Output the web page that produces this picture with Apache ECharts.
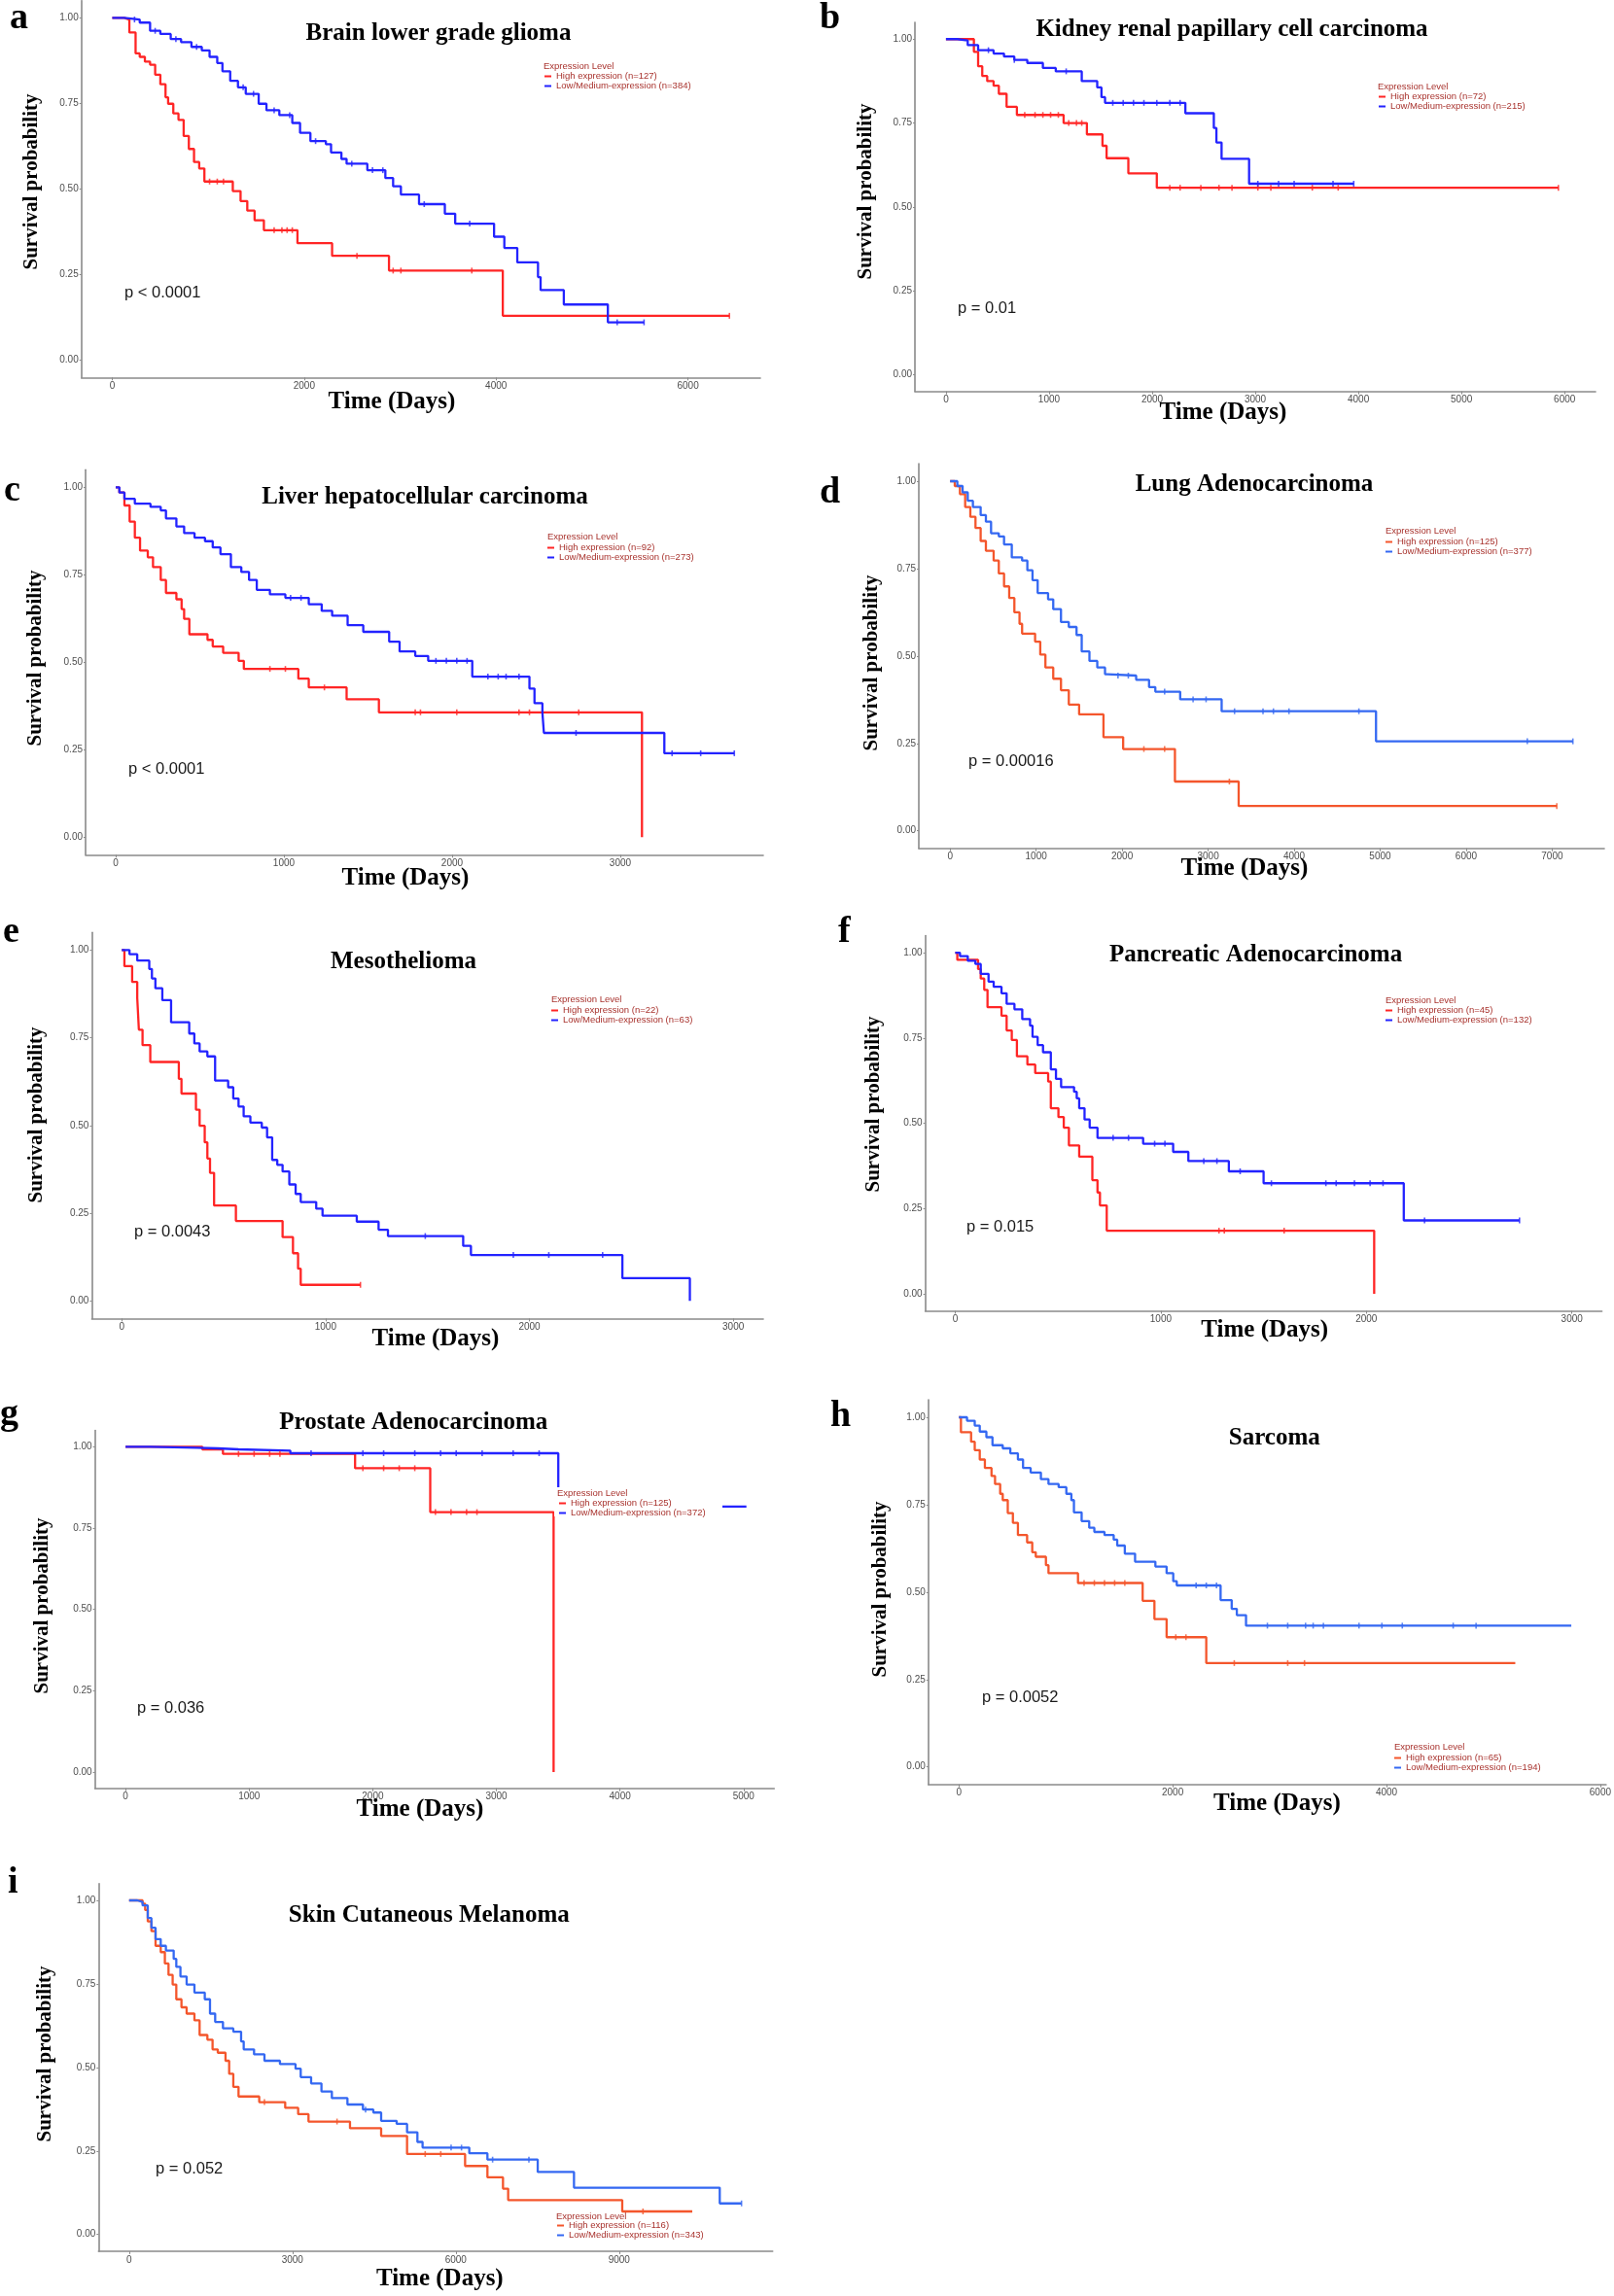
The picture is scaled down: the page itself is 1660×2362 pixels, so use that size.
<!DOCTYPE html>
<html><head><meta charset="utf-8">
<script src="https://cdn.jsdelivr.net/npm/echarts@6/dist/echarts.min.js"></script>
<style>html,body{margin:0;padding:0;background:#fff}#c{width:1660px;height:2362px}</style>
</head><body><div id="c"></div>
<script>
// ---------------- DATA (time in days, survival probability) ----------------
const brainHigh = [[0,1],[124,0.995],[178,0.957],[243,0.896],[286,0.886],[340,0.872],[394,0.863],[447,0.834],[501,0.806],[555,0.768],[582,0.749],[636,0.721],[690,0.702],[744,0.655],[798,0.617],[852,0.579],[906,0.56],[960,0.522],[1256,0.494],[1337,0.465],[1407,0.437],[1483,0.409],[1580,0.38],[1930,0.342],[2291,0.305],[2884,0.262],[4070,0.13],[6432,0.13]];
const brainLow = [[0,1],[124,0.995],[286,0.986],[394,0.962],[501,0.953],[609,0.938],[717,0.929],[825,0.915],[933,0.905],[1014,0.886],[1094,0.868],[1148,0.844],[1229,0.816],[1310,0.797],[1391,0.778],[1526,0.749],[1607,0.73],[1741,0.716],[1876,0.693],[1957,0.664],[2065,0.64],[2226,0.631],[2280,0.607],[2388,0.588],[2442,0.574],[2658,0.555],[2846,0.532],[2927,0.508],[3008,0.484],[3197,0.456],[3466,0.428],[3574,0.399],[3979,0.361],[4086,0.328],[4221,0.286],[4437,0.243],[4464,0.205],[4706,0.163],[5165,0.111],[5542,0.111]];
const kidneyHigh = [[0,1],[271,0.962],[312,0.919],[352,0.89],[400,0.875],[462,0.861],[513,0.837],[588,0.798],[688,0.774],[1141,0.75],[1367,0.716],[1518,0.682],[1558,0.645],[1769,0.6],[2045,0.557],[5940,0.557]];
const kidneyLow = [[0,1],[111,0.996],[211,0.982],[312,0.967],[462,0.957],[563,0.948],[663,0.938],[789,0.929],[940,0.914],[1065,0.904],[1317,0.875],[1467,0.856],[1508,0.827],[1543,0.81],[2322,0.779],[2598,0.735],[2623,0.692],[2673,0.643],[2940,0.569],[3955,0.569]];
const liverHigh = [[0,1],[22,0.985],[52,0.948],[83,0.902],[114,0.856],[145,0.819],[191,0.8],[222,0.772],[268,0.735],[299,0.698],[361,0.68],[392,0.652],[407,0.624],[438,0.58],[546,0.564],[577,0.545],[639,0.527],[731,0.504],[762,0.481],[1086,0.453],[1148,0.428],[1373,0.394],[1565,0.357],[3129,0]];
const liverLow = [[0,1],[22,0.985],[52,0.967],[114,0.953],[207,0.944],[268,0.934],[299,0.911],[361,0.888],[407,0.869],[469,0.856],[531,0.846],[577,0.828],[623,0.809],[685,0.772],[747,0.758],[793,0.735],[839,0.707],[917,0.694],[1009,0.684],[1148,0.666],[1225,0.647],[1287,0.633],[1379,0.606],[1472,0.587],[1626,0.559],[1688,0.531],[1781,0.518],[1858,0.504],[2120,0.459],[2460,0.425],[2490,0.383],[2537,0.356],[2546,0.298],[3262,0.24],[3678,0.24]];
const lungHigh = [[0,1],[54,0.986],[114,0.963],[175,0.926],[235,0.898],[295,0.866],[355,0.829],[416,0.801],[506,0.773],[566,0.736],[627,0.699],[687,0.666],[747,0.625],[807,0.592],[837,0.564],[988,0.541],[1048,0.504],[1108,0.467],[1199,0.435],[1289,0.402],[1380,0.361],[1500,0.333],[1783,0.268],[2012,0.234],[2614,0.141],[3355,0.071],[7054,0.071]];
const lungLow = [[0,1],[84,0.986],[145,0.968],[205,0.944],[265,0.926],[355,0.903],[416,0.884],[476,0.851],[566,0.842],[627,0.819],[717,0.782],[837,0.773],[898,0.745],[958,0.717],[1018,0.68],[1139,0.662],[1199,0.634],[1289,0.597],[1380,0.583],[1470,0.56],[1530,0.513],[1620,0.486],[1711,0.467],[1801,0.448],[1831,0.444],[2163,0.432],[2313,0.411],[2386,0.398],[2675,0.376],[3157,0.342],[4952,0.256],[7241,0.256]];
const mesoHigh = [[0,1],[13,0.954],[51,0.909],[76,0.863],[84,0.773],[102,0.729],[140,0.681],[280,0.633],[293,0.591],[364,0.545],[382,0.499],[407,0.452],[420,0.406],[433,0.365],[453,0.272],[560,0.228],[789,0.182],[840,0.136],[865,0.092],[878,0.046],[1171,0.046]];
const mesoLow = [[0,1],[38,0.988],[76,0.97],[135,0.946],[148,0.919],[165,0.891],[199,0.857],[242,0.794],[331,0.762],[356,0.734],[382,0.711],[420,0.697],[458,0.628],[522,0.609],[547,0.577],[573,0.554],[598,0.526],[631,0.508],[687,0.494],[713,0.466],[738,0.402],[763,0.388],[789,0.369],[822,0.332],[853,0.305],[878,0.282],[954,0.263],[985,0.243],[1153,0.226],[1260,0.203],[1306,0.185],[1675,0.157],[1713,0.131],[2456,0.065],[2787,0]];
const pancHigh = [[0,1],[10,0.979],[111,0.952],[124,0.924],[141,0.891],[157,0.84],[225,0.815],[250,0.772],[275,0.744],[300,0.696],[351,0.672],[389,0.647],[452,0.622],[465,0.544],[502,0.518],[528,0.487],[553,0.435],[603,0.402],[667,0.333],[692,0.297],[704,0.259],[737,0.185],[2038,0]];
const pancLow = [[0,1],[23,0.99],[61,0.976],[98,0.967],[124,0.938],[162,0.915],[187,0.9],[225,0.881],[250,0.85],[288,0.834],[326,0.805],[364,0.786],[376,0.753],[401,0.729],[427,0.708],[465,0.658],[490,0.63],[515,0.606],[578,0.592],[591,0.573],[603,0.544],[629,0.511],[654,0.487],[692,0.457],[914,0.44],[1060,0.416],[1134,0.389],[1331,0.359],[1500,0.324],[2182,0.215],[2745,0.215]];
const prosHigh = [[0,1],[621,0.992],[788,0.978],[1857,0.934],[2465,0.799],[3463,0]];
const prosLow = [[0,1],[201,0.997],[579,0.995],[746,0.992],[914,0.988],[1333,0.98],[3501,0.816],[5023,0.816]];
const sarcHigh = [[0,1],[19,0.957],[114,0.93],[148,0.906],[195,0.879],[243,0.855],[305,0.832],[338,0.809],[386,0.781],[410,0.763],[457,0.726],[505,0.698],[552,0.663],[638,0.642],[686,0.614],[719,0.601],[814,0.577],[838,0.554],[1114,0.526],[1719,0.475],[1829,0.423],[1943,0.371],[2314,0.297],[5205,0.297]];
const sarcLow = [[0,1],[76,0.99],[148,0.976],[195,0.959],[257,0.943],[314,0.92],[410,0.911],[481,0.897],[552,0.879],[600,0.855],[671,0.842],[767,0.823],[838,0.809],[933,0.8],[1005,0.781],[1052,0.763],[1076,0.728],[1148,0.703],[1219,0.684],[1267,0.672],[1362,0.663],[1448,0.65],[1481,0.633],[1552,0.61],[1648,0.587],[1838,0.573],[1943,0.554],[2005,0.531],[2038,0.519],[2448,0.477],[2552,0.452],[2600,0.434],[2686,0.404],[5729,0.404]];
const skinHigh = [[0,1],[248,0.99],[295,0.971],[343,0.937],[410,0.908],[486,0.864],[581,0.845],[657,0.811],[724,0.777],[800,0.748],[867,0.704],[962,0.68],[1057,0.661],[1200,0.641],[1295,0.597],[1438,0.583],[1533,0.554],[1629,0.544],[1771,0.52],[1838,0.481],[1914,0.442],[2010,0.413],[2390,0.396],[2867,0.379],[3105,0.36],[3295,0.338],[4057,0.318],[4629,0.295],[5105,0.241],[6171,0.205],[6581,0.171],[6867,0.137],[6962,0.103],[9057,0.069],[10343,0.069]];
const skinLow = [[0,1],[152,0.995],[248,0.985],[343,0.947],[410,0.918],[486,0.884],[581,0.864],[676,0.85],[819,0.825],[867,0.801],[943,0.772],[1057,0.748],[1200,0.724],[1390,0.704],[1486,0.661],[1581,0.636],[1724,0.617],[1914,0.607],[2057,0.578],[2105,0.554],[2295,0.539],[2486,0.52],[2771,0.51],[3057,0.496],[3152,0.471],[3343,0.452],[3533,0.428],[3724,0.408],[4010,0.389],[4295,0.374],[4486,0.365],[4629,0.34],[4914,0.331],[5105,0.306],[5295,0.277],[5390,0.26],[6248,0.243],[6581,0.224],[7505,0.187],[8171,0.14],[10848,0.093],[11248,0.093]];

// censoring times (days) read from the "+" marks
const brainHighCens = [1014,1094,1159,1687,1768,1822,1876,2550,2927,3008,3747,6432];
const brainLowCens = [232,447,663,879,1364,1472,1687,1849,2119,2496,2712,2820,3251,3725,5262,5542];
const kidneyHighCens = [764,864,940,1015,1090,1191,1266,1317,2171,2271,2472,2648,2774,3025,3151,3553,3804,5940];
const kidneyLowCens = [412,663,1166,1618,1719,1819,1920,2045,2171,2271,3025,3226,3377,3754,3955];
const liverHighCens = [917,1009,1241,1781,1812,2028,2398,2460,2753];
const liverLowCens = [1040,1102,1904,1966,2028,2089,2213,2274,2321,2398,2737,3308,3478,3678];
const lungHighCens = [2253,2494,3247,7054];
const lungLowCens = [1952,2072,2494,2825,2976,3307,3638,3759,3940,4753,6711,7241];
const mesoHighCens = [1171];
const mesoLowCens = [1489,1921,2095,2359];
const pancHighCens = [1283,1309,1600];
const pancLowCens = [768,843,970,1020,1209,1273,1386,1538,1803,1853,1942,2018,2081,2283,2745];
const prosHighCens = [914,1040,1166,1249,1920,2088,2214,2340,2507,2633,2759,2843];
const prosLowCens = [1501,1920,2088,2340,2549,2675,2885,3136,3346];
const sarcHighCens = [1171,1267,1362,1457,1552,2029,2124,2576,3076,3233];
const sarcLowCens = [2219,2314,2410,2886,3076,3243,3314,3410,3743,3957,4148,4624,4838];
const skinHighCens = [2486,3819,5438,5724,9438];
const skinLowCens = [4343,5914,6105,6676,7343,11248];

const panelLetters = ['a','b','c','d','e','f','g','h','i'];
const panelTitles = ['Brain lower grade glioma','Kidney renal papillary cell carcinoma','Liver hepatocellular carcinoma','Lung Adenocarcinoma','Mesothelioma','Pancreatic Adenocarcinoma','Prostate Adenocarcinoma','Sarcoma','Skin Cutaneous Melanoma'];
const pValueLabels = ['p < 0.0001','p = 0.01','p < 0.0001','p = 0.00016','p = 0.0043','p = 0.015','p = 0.036','p = 0.0052','p = 0.052'];
const highLabels = ['High expression (n=127)','High expression (n=72)','High expression (n=92)','High expression (n=125)','High expression (n=22)','High expression (n=45)','High expression (n=125)','High expression (n=65)','High expression (n=116)'];
const lowLabels = ['Low/Medium-expression (n=384)','Low/Medium-expression (n=215)','Low/Medium-expression (n=273)','Low/Medium-expression (n=377)','Low/Medium-expression (n=63)','Low/Medium-expression (n=132)','Low/Medium-expression (n=372)','Low/Medium-expression (n=194)','Low/Medium-expression (n=343)'];
const xTickValues = [[0,2000,4000,6000],[0,1000,2000,3000,4000,5000,6000],[0,1000,2000,3000],[0,1000,2000,3000,4000,5000,6000,7000],[0,1000,2000,3000],[0,1000,2000,3000],[0,1000,2000,3000,4000,5000],[0,2000,4000,6000],[0,3000,6000,9000]];
const yTickValues = [0,0.25,0.5,0.75,1];
const highCurves = [brainHigh,kidneyHigh,liverHigh,lungHigh,mesoHigh,pancHigh,prosHigh,sarcHigh,skinHigh];
const lowCurves = [brainLow,kidneyLow,liverLow,lungLow,mesoLow,pancLow,prosLow,sarcLow,skinLow];
const highCens = [brainHighCens,kidneyHighCens,liverHighCens,lungHighCens,mesoHighCens,pancHighCens,prosHighCens,sarcHighCens,skinHighCens];
const lowCens = [brainLowCens,kidneyLowCens,liverLowCens,lungLowCens,mesoLowCens,pancLowCens,prosLowCens,sarcLowCens,skinLowCens];

// ---------------- LAYOUT / STYLE ----------------
const RED='#FF2525', BLUE='#2323FF', ORANGE='#F4562C', LBLUE='#3468F2';
const layout = [
 {L:83.7,R:782,T:0.7,B:388.3,xMin:-322,xMax:6754,title:[451,43],yt:[33,187],xt:[403,421.7],p:[128,301],leg:[559,69,560,78],letter:[10,32],c:[RED,BLUE]},
 {L:941,R:1641,T:23,B:402.6,xMin:-301,xMax:6300,title:[1267,39.3],yt:[891,197],xt:[1258,433.5],p:[985,317],leg:[1417,90,1418,99],letter:[843,32],c:[RED,BLUE]},
 {L:88,R:785,T:483.3,B:879.3,xMin:-179,xMax:3850,title:[437,520],yt:[37,677],xt:[417,911.7],p:[132,791],leg:[563,553,563,563],letter:[4,518],c:[RED,BLUE]},
 {L:945,R:1650,T:477,B:872.7,xMin:-364,xMax:7606,title:[1290,506.7],yt:[897,682],xt:[1280,902.5],p:[996,783],leg:[1425,547,1425,557],letter:[843,520],c:[ORANGE,LBLUE]},
 {L:94.4,R:785,T:959.3,B:1356.4,xMin:-147,xMax:3147,title:[415,998.3],yt:[38,1147],xt:[448,1386.5],p:[138,1267],leg:[567,1029,567,1039],letter:[3,972],c:[RED,BLUE]},
 {L:951.6,R:1647.6,T:962.5,B:1348.5,xMin:-146,xMax:3146,title:[1291.6,990.7],yt:[899,1136],xt:[1300.7,1376.7],p:[994,1262],leg:[1425,1030,1425,1039],letter:[862,972],c:[RED,BLUE]},
 {L:97.6,R:796.3,T:1471.6,B:1839.7,xMin:-248,xMax:5248,title:[425.3,1471.7],yt:[44,1652],xt:[432,1870.5],p:[141,1757],leg:[573,1537,575,1546],letter:[0,1468.6],c:[RED,BLUE],cover:[570,1530,173,30]},
 {L:954.8,R:1665,T:1440,B:1835.7,xMin:-286,xMax:6055,title:[1310.8,1488.3],yt:[906,1635],xt:[1313.5,1864],p:[1010,1746],leg:[1434,1798,1434,1808],letter:[854,1470],c:[ORANGE,LBLUE]},
 {L:101.3,R:794.7,T:1937.8,B:2315.9,xMin:-562,xMax:11820,title:[441.3,1979.3],yt:[47,2113],xt:[452.3,2353.3],p:[160,2231],leg:[572,2281,573,2289],letter:[8,1950],c:[ORANGE,LBLUE]}
];
const SERIF='"Liberation Serif","Times New Roman",serif';
const SANS='"Liberation Sans",Arial,sans-serif';
const LEGRED='#A8322D';
const AXIS='#8a8a8a';

function txt(x, baseline, text, fs, opts) {
  opts = opts || {};
  const family = opts.family || SERIF;
  const off = 0.34 * fs;
  return {
    type:'text', z: opts.z || 10, silent:true,
    x: x, y: opts.rot ? baseline : baseline - off,
    rotation: opts.rot || 0,
    style:{text:text, fontSize:fs, fontWeight:opts.weight||'normal', fontFamily:family,
      fill:opts.fill||'#000', align:opts.align||'left', verticalAlign:'middle',
      textAlign:opts.align||'left', textVerticalAlign:'middle'}
  };
}
// survival value of a step curve at time t (for placing censor marks on the curve)
function survAt(curve, t) {
  let s = curve[0][1];
  for (const [x, y] of curve) { if (x <= t) s = y; else break; }
  return s;
}

const grids=[], xAxes=[], yAxes=[], series=[], legends=[], graphics=[];
layout.forEach((l,i)=>{
  grids.push({left:l.L, top:l.T, width:l.R-l.L, height:l.B-l.T, containLabel:false});
  xAxes.push({gridIndex:i, type:'value', min:l.xMin, max:l.xMax,
    axisLine:{show:true, onZero:false, lineStyle:{color:AXIS, width:1.6}},
    axisTick:{show:true, length:3, customValues:xTickValues[i], lineStyle:{color:AXIS, width:1}},
    axisLabel:{customValues:xTickValues[i], fontSize:10, color:'#4d4d4d', margin:4, fontFamily:SANS, formatter:v=>String(Math.round(v))},
    splitLine:{show:false}});
  yAxes.push({gridIndex:i, type:'value', min:-0.05, max:1.05,
    axisLine:{show:true, onZero:false, lineStyle:{color:AXIS, width:1.6}},
    axisTick:{show:true, length:2, customValues:yTickValues, lineStyle:{color:AXIS, width:1}},
    axisLabel:{customValues:yTickValues, fontSize:10, color:'#4d4d4d', margin:3, fontFamily:SANS, formatter:v=>v.toFixed(2)},
    splitLine:{show:false}});
  [[highCurves[i], highCens[i], highLabels[i], l.c[0]],[lowCurves[i], lowCens[i], lowLabels[i], l.c[1]]].forEach(([d,cens,name,col])=>{
    series.push({type:'line', name:name, xAxisIndex:i, yAxisIndex:i, step:'end', data:d,
      showSymbol:false, symbol:'none', color:col, lineStyle:{width:2.3, color:col}, silent:true, animation:false, z:2});
    series.push({type:'scatter', xAxisIndex:i, yAxisIndex:i, data:cens.map(t=>[t, survAt(d,t)]),
      symbol:'rect', symbolSize:[1.6,6], itemStyle:{color:col}, silent:true, animation:false, z:3});
  });
  legends.push({left:l.leg[2], top:l.leg[3]-4.5, orient:'vertical', itemGap:0, itemWidth:7, itemHeight:2,
    icon:'rect', padding:0, z:20, selectedMode:false,
    textStyle:{fontSize:9.5, color:LEGRED, fontFamily:SANS, lineHeight:9},
    data:[{name:highLabels[i], itemStyle:{color:l.c[0]}},{name:lowLabels[i], itemStyle:{color:l.c[1]}}]});
  graphics.push(txt(l.leg[0], l.leg[1]+3, 'Expression Level', 9.5, {family:SANS, fill:LEGRED, z:25}));
  if (l.cover) graphics.push({type:'rect', z:15, silent:true, shape:{x:l.cover[0], y:l.cover[1], width:l.cover[2], height:l.cover[3]}, style:{fill:'#fff'}});
  graphics.push(txt(l.title[0], l.title[1], panelTitles[i], 25, {weight:'bold', align:'center'}));
  graphics.push(txt(l.xt[0], l.xt[1], 'Time (Days)', 25, {weight:'bold', align:'center'}));
  graphics.push(txt(l.yt[0], l.yt[1], 'Survival probability', 21, {weight:'bold', align:'center', rot:Math.PI/2}));
  graphics.push(txt(l.p[0], l.p[1]+5.7, pValueLabels[i], 16.5, {family:SANS, fill:'#1a1a1a'}));
  graphics.push(txt(l.letter[0], l.letter[1], panelLetters[i], 38, {weight:'bold'}));
});

const chart = echarts.init(document.getElementById('c'), null, {renderer:'canvas'});
chart.setOption({
  animation:false, backgroundColor:'#fff',
  grid:grids, xAxis:xAxes, yAxis:yAxes, series:series, legend:legends,
  graphic:{elements:graphics}
});
</script></body></html>
